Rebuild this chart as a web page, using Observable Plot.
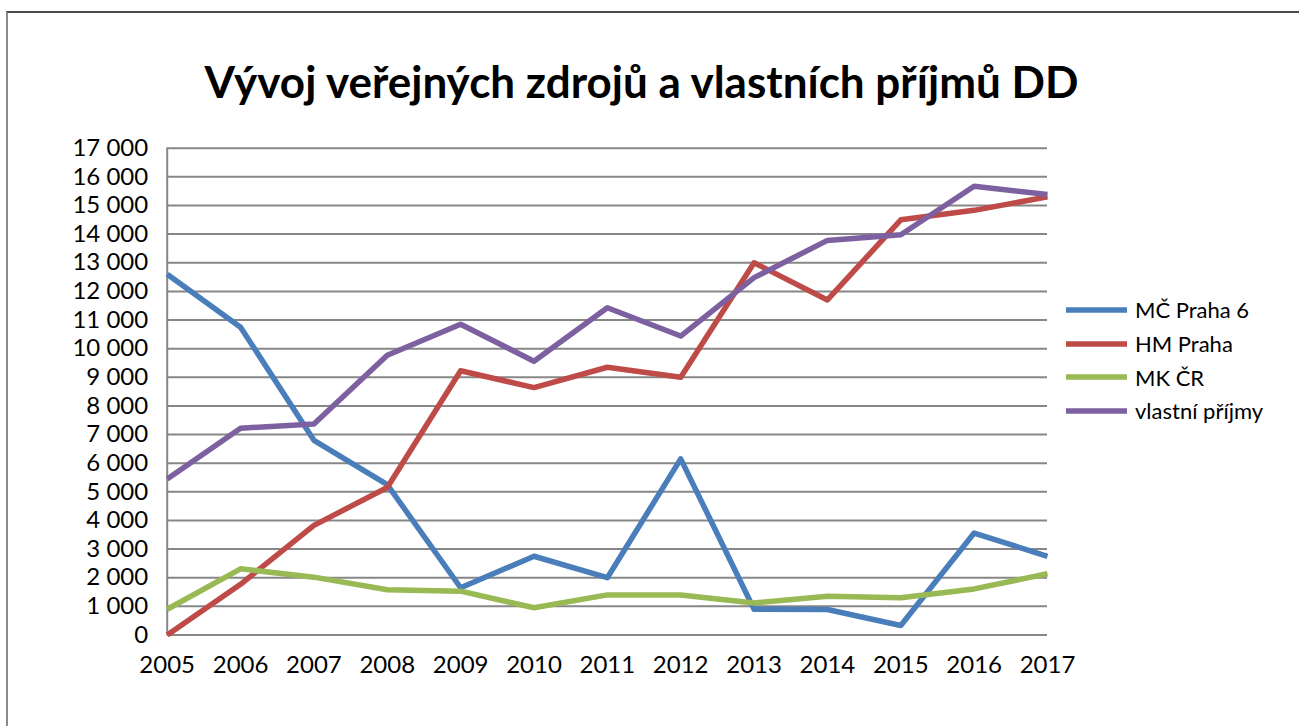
<!DOCTYPE html>
<html>
<head>
<meta charset="utf-8">
<script src="https://cdn.jsdelivr.net/npm/d3@7"></script>
<script src="https://cdn.jsdelivr.net/npm/@observablehq/plot@0.6"></script>
<style>
  html, body { margin: 0; padding: 0; background: #fff; }
  #wrap { position: relative; width: 1299px; height: 726px; overflow: hidden; font-family: Lato, "Open Sans", sans-serif; }
  #frame { position: absolute; left: 6px; top: 11px; width: 1400px; height: 800px; border-left: 2px solid #8a8a8a; border-top: 2px solid #4a4a4a; box-sizing: border-box; }
  #title { position: absolute; left: 0; top: 59px; width: 1283px; text-align: center; font-weight: 700; font-size: 44px; color: #000; line-height: 1; }
  #chart { position: absolute; left: 0; top: 0; }
  #legend { position: absolute; left: 1066px; top: 293px; font-size: 22px; color: #000; }
  .item { display: flex; align-items: center; height: 33.7px; }
  .item svg { margin-right: 8px; }
</style>
</head>
<body>
<div id="wrap">
  <div id="frame"></div>
  <div id="chart"></div>
  <div id="title">Vývoj veřejných zdrojů a vlastních příjmů DD</div>
  <div id="legend"></div>
</div>
<script>
const years = [2005, 2006, 2007, 2008, 2009, 2010, 2011, 2012, 2013, 2014, 2015, 2016, 2017];
const seriesNames = ["MČ Praha 6", "HM Praha", "MK ČR", "vlastní příjmy"];
const mcPraha6 = [12600, 10750, 6800, 5250, 1650, 2750, 2000, 6150, 900, 890, 330, 3560, 2750];
const hmPraha = [0, 1770, 3830, 5150, 9230, 8640, 9350, 9000, 13000, 11700, 14500, 14830, 15300];
const mkCR = [900, 2310, 2020, 1580, 1530, 950, 1400, 1400, 1120, 1350, 1300, 1610, 2140];
const vlastniPrijmy = [5450, 7220, 7370, 9770, 10850, 9560, 11430, 10440, 12480, 13780, 13980, 15670, 15380];
const colors = ["#4A7EBB", "#BE4B48", "#98B954", "#7D60A0"];
const yTicks = d3.range(0, 17001, 1000);

const seriesValues = [mcPraha6, hmPraha, mkCR, vlastniPrijmy];
const data = seriesNames.flatMap((name, i) =>
  years.map((year, j) => ({ series: name, year, value: seriesValues[i][j] }))
);

const fmt = d3.formatLocale({ decimal: ",", thousands: "\u00a0", grouping: [3] }).format(",d");

const chart = Plot.plot({
  width: 1299,
  height: 726,
  marginTop: 147.7,
  marginBottom: 91.5,
  marginLeft: 166.7,
  marginRight: 252,
  style: { fontFamily: "Lato, 'Open Sans', sans-serif", fontSize: "24px", color: "#000", background: "transparent" },
  x: { domain: [2005, 2017], ticks: years, tickFormat: d => String(d), tickSize: 0, tickPadding: 21, label: null },
  y: { domain: [0, 17000], ticks: yTicks, tickFormat: fmt, tickSize: 0, tickPadding: 19, label: null },
  color: { domain: seriesNames, range: colors },
  marks: [
    Plot.gridY(yTicks, { stroke: "#878787", strokeOpacity: 1, strokeWidth: 2 }),
    Plot.ruleX([2005], { stroke: "#878787", strokeWidth: 2 }),
    Plot.line(data, { x: "year", y: "value", z: "series", stroke: "series", strokeWidth: 5.5, strokeLinejoin: "round", strokeLinecap: "butt" })
  ]
});
document.getElementById("chart").appendChild(chart);

const legend = document.getElementById("legend");
seriesNames.forEach((name, i) => {
  const item = document.createElement("div");
  item.className = "item";
  item.innerHTML = `<svg width="61" height="6"><line x1="0" y1="3" x2="61" y2="3" stroke="${colors[i]}" stroke-width="5.5"/></svg><span>${name}</span>`;
  legend.appendChild(item);
});
</script>
</body>
</html>
